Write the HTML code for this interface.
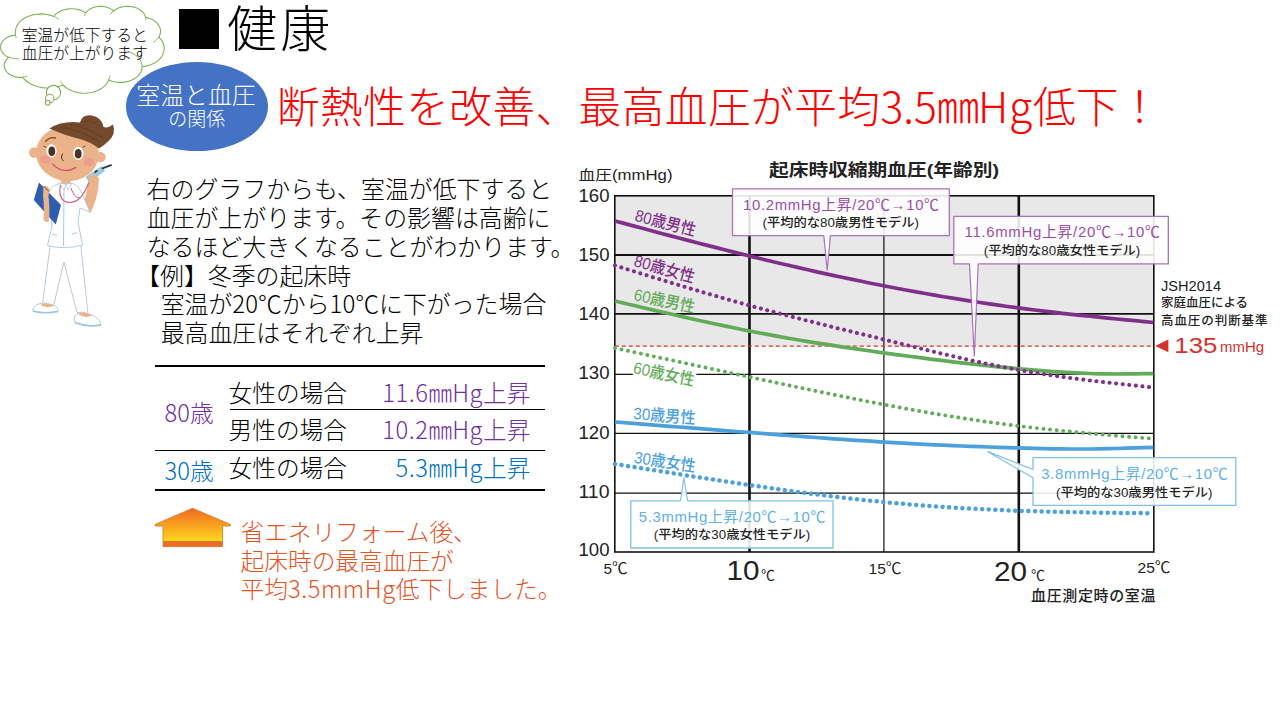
<!DOCTYPE html>
<html lang="ja">
<head>
<meta charset="utf-8">
<title>健康 - 室温と血圧の関係</title>
<style>
html,body{margin:0;padding:0;background:#fff;}
body{width:1280px;height:720px;position:relative;overflow:hidden;
  font-family:"Liberation Sans","Noto Sans CJK JP",sans-serif;color:#000;}
.jp{font-family:"Noto Sans CJK JP","Liberation Sans",sans-serif;}
.abs{position:absolute;white-space:nowrap;}
#title-sq{left:179.2px;top:8.8px;width:40px;height:40px;background:#000;}
#title{left:227px;top:-11.8px;font-size:50px;line-height:74px;font-weight:300;letter-spacing:3.2px;}
#cloudtxt{left:4.8px;top:25.5px;width:160px;text-align:center;font-size:15.75px;line-height:18px;font-weight:300;}
#ell{left:125.8px;top:61.8px;width:142.6px;height:88.8px;border-radius:50%;background:#4472C4;}
#ell1{left:125px;top:77.2px;width:142px;text-align:center;color:#fff;font-size:23.9px;line-height:34px;font-weight:300;}
#ell2{left:125.8px;top:105px;width:142px;text-align:center;color:#fff;font-size:19px;line-height:26px;font-weight:300;}
#head{left:276.8px;top:73.6px;font-size:42.67px;line-height:62px;color:#FF0000;font-weight:300;}
#body{left:146.7px;top:173.8px;font-size:23.9px;line-height:28.9px;font-weight:300;}
.ln{position:absolute;background:#000;}
.cell{font-size:23.7px;line-height:30px;font-weight:300;}
.lat{letter-spacing:0.6px;}
.pur{color:#7030A0;}
.blu{color:#0070C0;}
#org{left:240.6px;top:516.6px;font-size:23.7px;line-height:28.9px;color:#E5531F;font-weight:300;}
</style>
</head>
<body class="jp">
<svg width="1280" height="720" viewBox="0 0 1280 720" style="position:absolute;left:0;top:0">
<defs><linearGradient id="hg" x1="0" y1="0" x2="0" y2="1"><stop offset="0" stop-color="#EE6A22"/><stop offset="0.45" stop-color="#F89A1E"/><stop offset="1" stop-color="#FFDA1E"/></linearGradient></defs>
<path d="M15.4,34.9 L15.2,31.8 L15.8,28.6 L17.0,25.6 L19.0,22.7 L21.6,20.2 L24.8,18.0 L28.5,16.2 L32.5,14.9 L36.7,14.2 L41.1,13.9 L45.5,14.3 L49.7,15.1 L53.7,16.5 L55.2,14.7 L57.1,13.1 L59.2,11.7 L61.6,10.6 L64.2,9.7 L67.0,9.1 L69.9,8.8 L72.7,8.7 L75.6,9.0 L78.4,9.6 L81.0,10.4 L83.5,11.6 L85.6,12.9 L87.0,11.3 L88.6,9.9 L90.6,8.7 L92.7,7.7 L95.1,6.9 L97.6,6.5 L100.2,6.3 L102.7,6.4 L105.2,6.8 L107.6,7.5 L109.8,8.4 L111.8,9.6 L113.6,11.0 L115.8,9.4 L118.4,8.1 L121.3,7.1 L124.4,6.5 L127.6,6.3 L130.8,6.5 L133.9,7.1 L136.8,8.1 L139.4,9.4 L141.6,11.0 L143.5,12.9 L144.8,15.0 L145.7,17.2 L148.2,17.9 L150.5,18.7 L152.7,19.8 L154.7,21.1 L156.5,22.5 L157.9,24.1 L159.1,25.9 L159.9,27.7 L160.4,29.6 L160.5,31.5 L160.3,33.4 L159.8,35.3 L158.9,37.1 L161.1,39.6 L162.8,42.3 L163.8,45.2 L164.2,48.2 L163.9,51.1 L163.0,54.0 L161.5,56.8 L159.3,59.3 L156.7,61.6 L153.5,63.5 L150.0,65.0 L146.2,66.1 L142.2,66.8 L141.9,69.3 L141.0,71.8 L139.5,74.2 L137.6,76.4 L135.2,78.3 L132.4,79.8 L129.3,81.1 L125.9,81.9 L122.4,82.4 L118.8,82.4 L115.3,82.0 L111.9,81.3 L108.7,80.1 L107.1,83.1 L104.7,85.8 L101.8,88.2 L98.3,90.2 L94.4,91.7 L90.2,92.7 L85.8,93.2 L81.4,93.1 L77.1,92.5 L72.9,91.3 L69.1,89.6 L65.8,87.5 L63.0,85.0 L59.9,86.2 L56.5,87.1 L53.0,87.7 L49.5,88.0 L45.9,88.0 L42.4,87.6 L38.9,87.0 L35.6,86.0 L32.5,84.8 L29.6,83.3 L26.9,81.5 L24.6,79.5 L22.6,77.4 L19.6,77.4 L16.5,77.1 L13.6,76.3 L11.0,75.1 L8.6,73.7 L6.8,71.9 L5.4,69.9 L4.5,67.7 L4.2,65.5 L4.5,63.3 L5.4,61.2 L6.8,59.2 L8.7,57.4 L6.1,56.1 L4.0,54.4 L2.3,52.4 L1.1,50.3 L0.6,48.0 L0.7,45.7 L1.3,43.4 L2.6,41.3 L4.4,39.4 L6.6,37.8 L9.3,36.5 L12.2,35.6 L15.3,35.2 Z" fill="#fff" stroke="#7DB356" stroke-width="1.1" stroke-linejoin="round"/>
<path d="M18.4,58.7 L17.0,58.7 L15.6,58.7 L14.2,58.5 L12.8,58.3 L11.4,58.0 L10.1,57.6 L8.9,57.1 M26.9,76.2 L26.3,76.4 L25.7,76.5 L25.1,76.6 L24.5,76.8 L23.9,76.8 L23.3,76.9 L22.7,77.0 M63.0,84.6 L62.6,84.2 L62.2,83.7 L61.8,83.2 L61.5,82.7 L61.1,82.2 L60.8,81.7 L60.5,81.1 M109.7,75.9 L109.7,76.5 L109.6,77.0 L109.5,77.6 L109.3,78.1 L109.1,78.7 L109.0,79.2 L108.7,79.8 M129.8,52.2 L132.8,53.5 L135.5,55.1 L137.8,57.0 L139.7,59.2 L141.0,61.5 L141.9,64.0 L142.1,66.5 M158.8,36.9 L158.3,37.8 L157.6,38.6 L156.9,39.4 L156.1,40.2 L155.3,40.9 L154.3,41.6 L153.3,42.3 M145.7,16.9 L145.8,17.3 L145.8,17.7 L145.9,18.0 L145.9,18.4 L146.0,18.7 L146.0,19.1 L146.0,19.5 M110.7,14.0 L111.0,13.5 L111.4,13.0 L111.7,12.5 L112.1,12.0 L112.6,11.6 L113.0,11.1 L113.5,10.7 M84.5,15.5 L84.6,15.1 L84.7,14.7 L84.9,14.3 L85.1,13.9 L85.3,13.5 L85.6,13.1 L85.8,12.7 M53.7,16.5 L54.4,16.8 L55.1,17.1 L55.9,17.5 L56.6,17.9 L57.3,18.3 L57.9,18.7 L58.6,19.2 M16.3,37.8 L16.1,37.4 L16.0,37.0 L15.9,36.6 L15.7,36.2 L15.6,35.7 L15.5,35.3 L15.4,34.9" fill="none" stroke="#7DB356" stroke-width="1.0" stroke-linecap="round"/>
<circle cx="53.5" cy="92.6" r="7.2" fill="#fff" stroke="#7DB356" stroke-width="1.1"/>
<circle cx="49.8" cy="98.6" r="4.3" fill="#fff" stroke="#7DB356" stroke-width="1.1"/>
<circle cx="47.7" cy="102.7" r="2.4" fill="#fff" stroke="#7DB356" stroke-width="1.1"/>
<path d="M192.6,508.2 L230.4,524.4 L230.4,526 L222.6,526 L222.6,541.8 L163,541.8 L163,526 L155.2,526 L155.2,524.4 Z" fill="url(#hg)" stroke="#C7782C" stroke-width="0.8" stroke-linejoin="round"/>
<rect x="163" y="541.6" width="59.6" height="5.2" fill="#EE6A22" stroke="#C7782C" stroke-width="0.6"/>
<path d="M50.5,243 L42.5,304 L53.5,306 L64,262 L77,312.5 L88,314 L80.5,243 Z" fill="#fff" stroke="#AFC3D8" stroke-width="0.9" stroke-linejoin="round"/>
<path d="M33,309 Q35,303.5 44,303 L55,305.5 Q59,308 58,311.5 Q45,313.5 33,311.5 Z" fill="#fff" stroke="#AFC3D8" stroke-width="0.9"/>
<path d="M40,305 Q46,301.5 54,305.5 Q47,309 40,305 Z" fill="#EBB389"/>
<path d="M33,311 Q45,314.5 58,311.5" fill="none" stroke="#9DC3E6" stroke-width="1.4"/>
<path d="M74,319 Q75,313 82,312 L92,315 Q100,319 101,324.5 Q88,327.5 75,322.5 Z" fill="#fff" stroke="#AFC3D8" stroke-width="0.9"/>
<path d="M78,314 Q84,310.5 92,315.5 Q85,319 78,314 Z" fill="#EBB389"/>
<path d="M75,322.5 Q88,328 101,325" fill="none" stroke="#9DC3E6" stroke-width="1.4"/>
<path d="M88.5,176 Q96,171.5 99,179 Q98.5,197 90.5,213 L81.5,207 Q88,194 88.5,176 Z" fill="#EBB389"/>
<path d="M58,184 Q50,186 47,196 L50,206 L52,226 L47.5,245.5 Q64,250 82.5,245 L78,222 L80,208 L90,212 L83,196 Q80,186 72,183 Z" fill="#fff" stroke="#AFC3D8" stroke-width="0.9" stroke-linejoin="round"/>
<path d="M64,186 L63.5,246" stroke="#9DC3E6" stroke-width="0.9" fill="none"/>
<path d="M52,234 L57,235.5 M72,234 L77,232.5" stroke="#9DC3E6" stroke-width="0.9" fill="none"/>
<path d="M60,178 L71,178 L70,186 L62,186 Z" fill="#EBB389"/>
<path d="M59,183 L64,190 L66,184 Z M72,183 L68,190 L66,184 Z" fill="#fff" stroke="#AFC3D8" stroke-width="0.8"/>
<path d="M60.5,185 Q58,196 64,201 Q72,205 80,198 Q86,191 88.5,183" fill="none" stroke="#D95B73" stroke-width="1.1"/>
<path d="M71,188 Q74,198 80,198" fill="none" stroke="#D95B73" stroke-width="1.0"/>
<path d="M39,182.5 L61,205 L55.8,224.5 L33.8,200 Z" fill="#2E5DB0"/>
<path d="M43.5,186 Q47,184.5 49.5,189 L48.5,196 Q50,210 49,221 Q46,223.5 43.5,220 Q44.5,206 43,196 Z" fill="#EBB389"/>
<path d="M44,186.5 L49,191.5" stroke="#6B4A2E" stroke-width="1" fill="none"/>
<circle cx="34.2" cy="152.5" r="5.2" fill="#EBB389"/>
<circle cx="100.5" cy="157" r="5.2" fill="#EBB389"/>
<ellipse cx="67.5" cy="153.5" rx="31.5" ry="27.5" fill="#EBB389" transform="rotate(4 67.5 153.5)"/>
<path d="M49.5,128.5 Q62,120.5 80,122.5 Q82,114 92,115.5 Q102,117.5 103.5,127 Q108,128.5 113,124.5 Q116.5,134 108,141.5 Q104,145.5 99,148.5 Q90,141.5 78,138.5 Q62,134.5 49.5,128.5 Z" fill="#754A2C"/>
<path d="M60,127.5 Q78,128.5 100,142 M84,121.5 Q93,119.5 99,126.5 M70,124.5 Q88,127 103,138" fill="none" stroke="#5E3B22" stroke-width="1.1" stroke-linecap="round" opacity="0.7"/>
<ellipse cx="45.5" cy="159.5" rx="5.5" ry="4.2" fill="#F0948E" opacity="0.75"/>
<ellipse cx="89" cy="162" rx="5.5" ry="4.2" fill="#F0948E" opacity="0.75"/>
<ellipse cx="51.5" cy="150.8" rx="5.2" ry="6.6" fill="#fff"/><ellipse cx="51.8" cy="151.2" rx="3.4" ry="4.7" fill="#4A3122"/>
<ellipse cx="78.3" cy="153.3" rx="5.2" ry="6.6" fill="#fff"/><ellipse cx="78.2" cy="153.8" rx="3.4" ry="4.7" fill="#4A3122"/>
<path d="M45.5,141.5 Q50,136.5 55.5,138" fill="none" stroke="#754A2C" stroke-width="1.3" stroke-linecap="round"/>
<path d="M43.5,146 L46.5,147.5 M82.5,147.5 L85.5,146" stroke="#754A2C" stroke-width="1" fill="none"/>
<path d="M62.5,154 Q60,158.5 63.5,161" fill="none" stroke="#4A3122" stroke-width="1" stroke-linecap="round"/>
<path d="M52.5,164 Q63,175 76,167.5" fill="none" stroke="#D95B73" stroke-width="1.5" stroke-linecap="round"/>
<path d="M86,177 L101.5,166.5 L104.5,171 L89,181.5 Z" fill="#9CCDE6" stroke="#7FB4D4" stroke-width="0.6"/>
<path d="M102.5,168.3 L111,165.2" stroke="#2B3A4A" stroke-width="1.8" stroke-linecap="round"/>
<path d="M94.5,172.5 L97.5,170.5" stroke="#2B3A4A" stroke-width="1.6"/>
<ellipse cx="93" cy="178.5" rx="4.6" ry="4" fill="#EBB389"/>
</svg>

<div class="abs" id="title-sq"></div>
<div class="abs" id="title">健康</div>
<div class="abs" id="ell"></div>
<div class="abs" id="ell1">室温と血圧</div>
<div class="abs" id="ell2">の関係</div>
<div class="abs" id="cloudtxt">室温が低下すると<br>血圧が上がります</div>
<div class="abs" id="head"><span style="letter-spacing:0.46px">断熱性を改善、最高血圧が平均</span>3.5<span style="letter-spacing:-1.5px">㎜</span><span style="letter-spacing:0.8px">Hg</span>低下！</div>
<div class="abs" id="body">右のグラフからも、室温が低下すると<br>血圧が上がります。その影響は高齢に<br>なるほど大きくなることがわかります。<br><span style="margin-left:-10.6px">【</span>例】冬季の起床時<br><span style="padding-left:14px">室温が20℃から10℃に下がった場合</span><br><span style="padding-left:14px">最高血圧はそれぞれ上昇</span></div>

<div class="ln" style="left:155px;top:364.8px;width:389.5px;height:2.2px"></div>
<div class="ln" style="left:229.5px;top:408.7px;width:315px;height:1.4px"></div>
<div class="ln" style="left:155px;top:449.8px;width:389.5px;height:1.4px"></div>
<div class="ln" style="left:155px;top:488.9px;width:389.5px;height:2.2px"></div>
<div class="abs cell pur" style="left:164.6px;top:396.5px;font-weight:300">80歳</div>
<div class="abs cell blu" style="left:164.6px;top:454.5px;font-weight:300">30歳</div>
<div class="abs cell" style="left:228.5px;top:376.5px">女性の場合</div>
<div class="abs cell" style="left:228.5px;top:414px">男性の場合</div>
<div class="abs cell" style="left:228.5px;top:452.3px">女性の場合</div>
<div class="abs cell pur" style="left:330px;width:200.5px;text-align:right;top:376.5px;font-weight:300"><span class="lat">11.6</span>㎜<span class="lat">Hg</span>上昇</div>
<div class="abs cell pur" style="left:330px;width:200.5px;text-align:right;top:414px;font-weight:300"><span class="lat">10.2</span>㎜<span class="lat">Hg</span>上昇</div>
<div class="abs cell blu" style="left:330px;width:200.5px;text-align:right;top:452.3px;font-weight:300"><span class="lat">5.3</span>㎜<span class="lat">Hg</span>上昇</div>
<div class="abs" id="org">省エネリフォーム後、<br>起床時の最高血圧が<br>平均<span style="letter-spacing:0.55px">3.5mmHg</span>低下しました。</div>
<svg width="1280" height="720" viewBox="0 0 1280 720" style="position:absolute;left:0;top:0" font-family="'Liberation Sans','Noto Sans CJK JP',sans-serif">
<rect x="614.8" y="195.8" width="539.0" height="150.39999999999998" fill="#E8E8E8"/>
<line x1="614.8" x2="1153.8" y1="255.0" y2="255.0" stroke="#111" stroke-width="1.8"/>
<line x1="614.8" x2="1153.8" y1="313.9" y2="313.9" stroke="#111" stroke-width="1.8"/>
<line x1="614.8" x2="1153.8" y1="374.4" y2="374.4" stroke="#111" stroke-width="1.2"/>
<line x1="614.8" x2="1153.8" y1="433.3" y2="433.3" stroke="#111" stroke-width="1.2"/>
<line x1="614.8" x2="1153.8" y1="493.2" y2="493.2" stroke="#111" stroke-width="1.2"/>
<line x1="883.9" x2="883.9" y1="195.8" y2="552.0" stroke="#111" stroke-width="1.2"/>
<line x1="749.5" x2="749.5" y1="195.8" y2="552.0" stroke="#111" stroke-width="2.6"/>
<line x1="1018.8" x2="1018.8" y1="195.8" y2="552.0" stroke="#111" stroke-width="2.6"/>
<rect x="614.8" y="195.8" width="539.0" height="356.2" fill="none" stroke="#111" stroke-width="1.6"/>
<line x1="614.8" x2="1153.8" y1="346.2" y2="346.2" stroke="#D8302B" stroke-width="1.3" stroke-dasharray="4 3"/>
<path d="M615.0,221.0 L624.1,223.4 L633.3,225.9 L642.4,228.3 L651.5,230.7 L660.6,233.2 L669.8,235.6 L678.9,238.0 L688.0,240.4 L697.1,242.7 L706.3,245.1 L715.4,247.4 L724.5,249.8 L733.7,252.1 L742.8,254.3 L751.9,256.6 L761.0,258.8 L770.2,261.0 L779.3,263.2 L788.4,265.3 L797.5,267.4 L806.7,269.5 L815.8,271.6 L824.9,273.6 L834.1,275.6 L843.2,277.5 L852.3,279.4 L861.4,281.3 L870.6,283.2 L879.7,285.0 L888.8,286.8 L897.9,288.5 L907.1,290.2 L916.2,291.9 L925.3,293.5 L934.4,295.1 L943.6,296.7 L952.7,298.2 L961.8,299.7 L971.0,301.1 L980.1,302.5 L989.2,303.9 L998.3,305.2 L1007.5,306.5 L1016.6,307.7 L1025.7,308.9 L1034.8,310.0 L1044.0,311.2 L1053.1,312.2 L1062.2,313.3 L1071.4,314.3 L1080.5,315.3 L1089.6,316.2 L1098.7,317.1 L1107.9,318.1 L1117.0,319.0 L1126.1,319.9 L1135.2,320.7 L1144.4,321.6 L1153.5,322.5" fill="none" stroke="#7F3189" stroke-width="3.7"/>
<path d="M615.0,301.0 L624.1,303.2 L633.3,305.3 L642.4,307.5 L651.5,309.6 L660.6,311.7 L669.8,313.8 L678.9,315.9 L688.0,318.0 L697.1,320.0 L706.3,322.0 L715.4,324.0 L724.5,325.9 L733.7,327.8 L742.8,329.7 L751.9,331.5 L761.0,333.2 L770.2,334.9 L779.3,336.6 L788.4,338.2 L797.5,339.8 L806.7,341.3 L815.8,342.8 L824.9,344.2 L834.1,345.7 L843.2,347.1 L852.3,348.4 L861.4,349.7 L870.6,351.0 L879.7,352.3 L888.8,353.6 L897.9,354.8 L907.1,356.0 L916.2,357.2 L925.3,358.4 L934.4,359.6 L943.6,360.7 L952.7,361.8 L961.8,362.8 L971.0,363.9 L980.1,364.9 L989.2,365.8 L998.3,366.8 L1007.5,367.7 L1016.6,368.6 L1025.7,369.4 L1034.8,370.2 L1044.0,370.9 L1053.1,371.6 L1062.2,372.2 L1071.4,372.7 L1080.5,373.2 L1089.6,373.5 L1098.7,373.8 L1107.9,373.9 L1117.0,374.0 L1126.1,373.9 L1135.2,373.9 L1144.4,373.7 L1153.5,373.6" fill="none" stroke="#62AB58" stroke-width="3.7"/>
<path d="M615.0,422.0 L624.1,422.7 L633.3,423.4 L642.4,424.1 L651.5,424.9 L660.6,425.6 L669.8,426.3 L678.9,427.0 L688.0,427.7 L697.1,428.4 L706.3,429.1 L715.4,429.9 L724.5,430.6 L733.7,431.3 L742.8,432.0 L751.9,432.7 L761.0,433.4 L770.2,434.1 L779.3,434.8 L788.4,435.5 L797.5,436.2 L806.7,436.8 L815.8,437.5 L824.9,438.2 L834.1,438.8 L843.2,439.4 L852.3,440.1 L861.4,440.7 L870.6,441.2 L879.7,441.8 L888.8,442.3 L897.9,442.9 L907.1,443.4 L916.2,443.9 L925.3,444.3 L934.4,444.8 L943.6,445.2 L952.7,445.6 L961.8,446.0 L971.0,446.4 L980.1,446.7 L989.2,447.0 L998.3,447.4 L1007.5,447.7 L1016.6,447.9 L1025.7,448.2 L1034.8,448.4 L1044.0,448.6 L1053.1,448.8 L1062.2,448.9 L1071.4,449.0 L1080.5,449.0 L1089.6,449.0 L1098.7,448.8 L1107.9,448.7 L1117.0,448.5 L1126.1,448.2 L1135.2,447.9 L1144.4,447.6 L1153.5,447.3" fill="none" stroke="#4CA1DC" stroke-width="3.7"/>
<path d="M615.0,265.5 L619.5,266.9 L624.1,268.3 L628.6,269.7 L633.1,271.1 L637.6,272.5 L642.2,273.9 L646.7,275.3 L651.2,276.7 L655.7,278.0 L660.3,279.4 L664.8,280.8 L669.3,282.2 L673.8,283.5 L678.4,284.9 L682.9,286.3 L687.4,287.6 L691.9,289.0 L696.5,290.3 L701.0,291.7 L705.5,293.0 L710.0,294.3 L714.6,295.6 L719.1,296.9 L723.6,298.2 L728.1,299.5 L732.7,300.8 L737.2,302.1 L741.7,303.3 L746.2,304.6 L750.8,305.8 L755.3,307.1 L759.8,308.3 L764.3,309.5 L768.9,310.7 L773.4,311.9 L777.9,313.1 L782.4,314.3 L787.0,315.5 L791.5,316.6 L796.0,317.8 L800.5,318.9 L805.1,320.1 L809.6,321.2 L814.1,322.4 L818.6,323.5 L823.2,324.6 L827.7,325.7 L832.2,326.9 L836.7,328.0 L841.3,329.1 L845.8,330.2 L850.3,331.3 L854.8,332.4 L859.4,333.5 L863.9,334.6 L868.4,335.7 L872.9,336.8 L877.5,337.9 L882.0,339.0 L886.5,340.1 L891.0,341.3 L895.6,342.4 L900.1,343.5 L904.6,344.6 L909.1,345.7 L913.7,346.8 L918.2,347.9 L922.7,349.0 L927.2,350.1 L931.8,351.2 L936.3,352.3 L940.8,353.4 L945.3,354.4 L949.9,355.5 L954.4,356.6 L958.9,357.6 L963.4,358.6 L968.0,359.7 L972.5,360.7 L977.0,361.6 L981.5,362.6 L986.1,363.6 L990.6,364.5 L995.1,365.5 L999.6,366.4 L1004.2,367.3 L1008.7,368.1 L1013.2,369.0 L1017.7,369.8 L1022.3,370.6 L1026.8,371.4 L1031.3,372.2 L1035.8,372.9 L1040.4,373.6 L1044.9,374.3 L1049.4,375.0 L1053.9,375.7 L1058.5,376.3 L1063.0,377.0 L1067.5,377.6 L1072.0,378.2 L1076.6,378.8 L1081.1,379.4 L1085.6,379.9 L1090.1,380.5 L1094.7,381.0 L1099.2,381.6 L1103.7,382.1 L1108.2,382.6 L1112.8,383.1 L1117.3,383.6 L1121.8,384.1 L1126.3,384.6 L1130.9,385.1 L1135.4,385.6 L1139.9,386.1 L1144.4,386.5 L1149.0,387.0 L1153.5,387.5" fill="none" stroke="#7F3189" stroke-width="4.1" stroke-linecap="round" stroke-dasharray="0.01 6.6"/>
<path d="M615.0,348.0 L619.5,349.0 L624.1,350.0 L628.6,350.9 L633.1,351.9 L637.6,352.9 L642.2,353.9 L646.7,354.9 L651.2,355.8 L655.7,356.8 L660.3,357.8 L664.8,358.8 L669.3,359.7 L673.8,360.7 L678.4,361.7 L682.9,362.7 L687.4,363.7 L691.9,364.6 L696.5,365.6 L701.0,366.6 L705.5,367.6 L710.0,368.5 L714.6,369.5 L719.1,370.5 L723.6,371.4 L728.1,372.4 L732.7,373.4 L737.2,374.4 L741.7,375.3 L746.2,376.3 L750.8,377.3 L755.3,378.2 L759.8,379.2 L764.3,380.2 L768.9,381.1 L773.4,382.1 L777.9,383.1 L782.4,384.0 L787.0,385.0 L791.5,385.9 L796.0,386.9 L800.5,387.8 L805.1,388.8 L809.6,389.7 L814.1,390.7 L818.6,391.6 L823.2,392.5 L827.7,393.4 L832.2,394.4 L836.7,395.3 L841.3,396.2 L845.8,397.1 L850.3,398.0 L854.8,398.9 L859.4,399.8 L863.9,400.7 L868.4,401.6 L872.9,402.4 L877.5,403.3 L882.0,404.2 L886.5,405.0 L891.0,405.9 L895.6,406.7 L900.1,407.5 L904.6,408.4 L909.1,409.2 L913.7,410.0 L918.2,410.8 L922.7,411.6 L927.2,412.4 L931.8,413.1 L936.3,413.9 L940.8,414.7 L945.3,415.4 L949.9,416.1 L954.4,416.9 L958.9,417.6 L963.4,418.3 L968.0,419.0 L972.5,419.7 L977.0,420.3 L981.5,421.0 L986.1,421.7 L990.6,422.3 L995.1,422.9 L999.6,423.5 L1004.2,424.1 L1008.7,424.7 L1013.2,425.3 L1017.7,425.9 L1022.3,426.4 L1026.8,427.0 L1031.3,427.5 L1035.8,428.0 L1040.4,428.5 L1044.9,429.0 L1049.4,429.5 L1053.9,430.0 L1058.5,430.4 L1063.0,430.9 L1067.5,431.3 L1072.0,431.8 L1076.6,432.2 L1081.1,432.6 L1085.6,433.0 L1090.1,433.5 L1094.7,433.9 L1099.2,434.3 L1103.7,434.7 L1108.2,435.0 L1112.8,435.4 L1117.3,435.8 L1121.8,436.2 L1126.3,436.6 L1130.9,436.9 L1135.4,437.3 L1139.9,437.7 L1144.4,438.0 L1149.0,438.4 L1153.5,438.8" fill="none" stroke="#62AB58" stroke-width="3.9" stroke-linecap="round" stroke-dasharray="0.01 6.6"/>
<path d="M615.0,464.0 L619.5,464.7 L624.1,465.4 L628.6,466.2 L633.1,466.9 L637.6,467.6 L642.2,468.3 L646.7,469.1 L651.2,469.8 L655.7,470.5 L660.3,471.2 L664.8,471.9 L669.3,472.7 L673.8,473.4 L678.4,474.1 L682.9,474.8 L687.4,475.5 L691.9,476.2 L696.5,476.9 L701.0,477.6 L705.5,478.3 L710.0,479.0 L714.6,479.7 L719.1,480.4 L723.6,481.1 L728.1,481.8 L732.7,482.5 L737.2,483.2 L741.7,483.8 L746.2,484.5 L750.8,485.2 L755.3,485.9 L759.8,486.5 L764.3,487.2 L768.9,487.8 L773.4,488.5 L777.9,489.1 L782.4,489.8 L787.0,490.4 L791.5,491.0 L796.0,491.6 L800.5,492.3 L805.1,492.9 L809.6,493.5 L814.1,494.1 L818.6,494.6 L823.2,495.2 L827.7,495.8 L832.2,496.3 L836.7,496.9 L841.3,497.4 L845.8,498.0 L850.3,498.5 L854.8,499.0 L859.4,499.5 L863.9,500.0 L868.4,500.5 L872.9,501.0 L877.5,501.4 L882.0,501.9 L886.5,502.3 L891.0,502.8 L895.6,503.2 L900.1,503.6 L904.6,504.0 L909.1,504.4 L913.7,504.8 L918.2,505.1 L922.7,505.5 L927.2,505.8 L931.8,506.1 L936.3,506.5 L940.8,506.8 L945.3,507.1 L949.9,507.4 L954.4,507.7 L958.9,507.9 L963.4,508.2 L968.0,508.5 L972.5,508.7 L977.0,508.9 L981.5,509.2 L986.1,509.4 L990.6,509.6 L995.1,509.8 L999.6,510.0 L1004.2,510.2 L1008.7,510.4 L1013.2,510.6 L1017.7,510.7 L1022.3,510.9 L1026.8,511.0 L1031.3,511.2 L1035.8,511.3 L1040.4,511.4 L1044.9,511.5 L1049.4,511.7 L1053.9,511.8 L1058.5,511.9 L1063.0,512.0 L1067.5,512.1 L1072.0,512.2 L1076.6,512.3 L1081.1,512.3 L1085.6,512.4 L1090.1,512.5 L1094.7,512.6 L1099.2,512.6 L1103.7,512.7 L1108.2,512.7 L1112.8,512.8 L1117.3,512.9 L1121.8,512.9 L1126.3,513.0 L1130.9,513.0 L1135.4,513.1 L1139.9,513.1 L1144.4,513.2 L1149.0,513.2 L1153.5,513.2" fill="none" stroke="#4CA1DC" stroke-width="4.5" stroke-linecap="round" stroke-dasharray="0.01 6.6"/>
<text x="578.5" y="202.0" font-size="17.5" fill="#222" textLength="31" lengthAdjust="spacingAndGlyphs">160</text>
<text x="578.5" y="261.2" font-size="17.5" fill="#222" textLength="31" lengthAdjust="spacingAndGlyphs">150</text>
<text x="578.5" y="320.1" font-size="17.5" fill="#222" textLength="31" lengthAdjust="spacingAndGlyphs">140</text>
<text x="578.5" y="379.3" font-size="17.5" fill="#222" textLength="31" lengthAdjust="spacingAndGlyphs">130</text>
<text x="578.5" y="438.6" font-size="17.5" fill="#222" textLength="31" lengthAdjust="spacingAndGlyphs">120</text>
<text x="578.5" y="498.4" font-size="17.5" fill="#222" textLength="31" lengthAdjust="spacingAndGlyphs">110</text>
<text x="578.5" y="555.7" font-size="17.5" fill="#222" textLength="31" lengthAdjust="spacingAndGlyphs">100</text>
<text x="578.5" y="179.5" font-size="14" fill="#222" textLength="94" lengthAdjust="spacingAndGlyphs">血圧(mmHg)</text>
<text x="769" y="175.5" font-size="17" font-weight="700" fill="#222" textLength="230" lengthAdjust="spacingAndGlyphs">起床時収縮期血圧(年齢別)</text>
<text x="603.5" y="573.5" font-size="15.5" fill="#222" textLength="24" lengthAdjust="spacingAndGlyphs">5℃</text>
<text x="868.5" y="573.5" font-size="15.5" fill="#222" textLength="33" lengthAdjust="spacingAndGlyphs">15℃</text>
<text x="1137.5" y="573.3" font-size="15.5" fill="#222" textLength="33" lengthAdjust="spacingAndGlyphs">25℃</text>
<text x="726.5" y="580" font-size="28.5" fill="#222" textLength="33" lengthAdjust="spacingAndGlyphs">10</text>
<text x="761" y="579.5" font-size="14" fill="#222">℃</text>
<text x="994" y="580.5" font-size="28.5" fill="#222" textLength="33" lengthAdjust="spacingAndGlyphs">20</text>
<text x="1031" y="579.5" font-size="14" fill="#222">℃</text>
<text x="1031" y="601" font-size="15" font-weight="500" fill="#222" textLength="124.5" lengthAdjust="spacing">血圧測定時の室温</text>
<text transform="translate(665.5,222.5) rotate(14.5)" x="-31.0" y="6" font-size="16.5" font-weight="500" fill="#7F3189" textLength="62" lengthAdjust="spacingAndGlyphs">80歳男性</text>
<text transform="translate(664.5,268.5) rotate(16)" x="-31.0" y="6" font-size="16.5" font-weight="500" fill="#7F3189" textLength="62" lengthAdjust="spacingAndGlyphs">80歳女性</text>
<text transform="translate(664.5,300.5) rotate(12)" x="-31.0" y="6" font-size="16.5" font-weight="500" fill="#62AB58" textLength="62" lengthAdjust="spacingAndGlyphs">60歳男性</text>
<text transform="translate(664,373.5) rotate(12)" x="-31.0" y="6" font-size="16.5" font-weight="500" fill="#62AB58" textLength="62" lengthAdjust="spacingAndGlyphs" stroke="#fff" stroke-width="5" paint-order="stroke" stroke-linejoin="round">60歳女性</text>
<text transform="translate(664.5,415.5) rotate(4.5)" x="-31.0" y="6" font-size="16.5" font-weight="500" fill="#4CA1DC" textLength="62" lengthAdjust="spacingAndGlyphs">30歳男性</text>
<text transform="translate(665,461.5) rotate(8.5)" x="-31.0" y="6" font-size="16.5" font-weight="500" fill="#4CA1DC" textLength="62" lengthAdjust="spacingAndGlyphs">30歳女性</text>
<rect x="732.5" y="188.8" width="216.79999999999995" height="46.79999999999998" fill="#fff" fill-opacity="0.88" stroke="none"/>
<path d="M823.8,235.6 L827.2,270.5 L830.4,235.6" fill="#fff" fill-opacity="0.9" stroke="#AA72BA" stroke-width="1.2" stroke-linejoin="miter"/>
<path d="M823.8,235.6 L732.5,235.6 L732.5,188.8 L949.3,188.8 L949.3,235.6 L830.4,235.6" fill="none" stroke="#AA72BA" stroke-width="1.3"/>
<text x="743" y="210" font-size="14.9" fill="#9A4FA6" textLength="196" lengthAdjust="spacing">10.2mmHg上昇/20℃→10℃</text>
<text x="762.5" y="227" font-size="12.5" font-weight="500" fill="#222" textLength="156.5" lengthAdjust="spacingAndGlyphs">(平均的な80歳男性モデル)</text>
<rect x="953.8" y="216.3" width="214.5" height="47.5" fill="#fff" fill-opacity="0.88" stroke="none"/>
<path d="M969.5,263.8 L974.3,356.5 L978.2,263.8" fill="#fff" fill-opacity="0.9" stroke="#AA72BA" stroke-width="1.2" stroke-linejoin="miter"/>
<path d="M969.5,263.8 L953.8,263.8 L953.8,216.3 L1168.3,216.3 L1168.3,263.8 L978.2,263.8" fill="none" stroke="#AA72BA" stroke-width="1.3"/>
<text x="964.5" y="236.6" font-size="14.9" fill="#9A4FA6" textLength="195.5" lengthAdjust="spacing">11.6mmHg上昇/20℃→10℃</text>
<text x="983.8" y="255.2" font-size="12.5" font-weight="500" fill="#222" textLength="156.5" lengthAdjust="spacingAndGlyphs">(平均的な80歳女性モデル)</text>
<rect x="630.8" y="500.8" width="202.20000000000005" height="47.19999999999999" fill="#fff" fill-opacity="0.88" stroke="none"/>
<path d="M680.6,500.8 L683.8,477.5 L687.6,500.8" fill="#fff" fill-opacity="0.9" stroke="#7FC1EB" stroke-width="1.2" stroke-linejoin="miter"/>
<path d="M680.6,500.8 L630.8,500.8 L630.8,548 L833,548 L833,500.8 L687.6,500.8" fill="none" stroke="#7FC1EB" stroke-width="1.3"/>
<text x="638.8" y="521.8" font-size="14.9" fill="#5FB0E4" textLength="186.5" lengthAdjust="spacing">5.3mmHg上昇/20℃→10℃</text>
<text x="653.8" y="539" font-size="12.5" font-weight="500" fill="#222" textLength="156.5" lengthAdjust="spacingAndGlyphs">(平均的な30歳女性モデル)</text>
<rect x="1033" y="457.6" width="202.79999999999995" height="47.799999999999955" fill="#fff" fill-opacity="0.88" stroke="none"/>
<path d="M1033,469.5 L987.5,451.4 L1033,477.8" fill="#fff" fill-opacity="0.9" stroke="#7FC1EB" stroke-width="1.2" stroke-linejoin="miter"/>
<path d="M1033,469.5 L1033,457.6 L1235.8,457.6 L1235.8,505.4 L1033,505.4 L1033,477.8" fill="none" stroke="#7FC1EB" stroke-width="1.3"/>
<text x="1041.3" y="478.8" font-size="14.9" fill="#5FB0E4" textLength="186.3" lengthAdjust="spacing">3.8mmHg上昇/20℃→10℃</text>
<text x="1056" y="497" font-size="12.5" font-weight="500" fill="#222" textLength="156.5" lengthAdjust="spacingAndGlyphs">(平均的な30歳男性モデル)</text>
<text x="1161" y="291" font-size="14" fill="#222" textLength="60" lengthAdjust="spacingAndGlyphs">JSH2014</text>
<text x="1161" y="307" font-size="12.5" font-weight="500" fill="#222" textLength="87" lengthAdjust="spacingAndGlyphs">家庭血圧による</text>
<text x="1161" y="324.5" font-size="12.5" font-weight="500" fill="#222" textLength="106.5" lengthAdjust="spacing">高血圧の判断基準</text>
<path d="M1155.3,346 L1168.4,339.6 L1168.4,352.2 Z" fill="#D8302B"/>
<text x="1174.3" y="352.6" font-size="21.5" fill="#D8302B" textLength="43" lengthAdjust="spacingAndGlyphs">135</text>
<text x="1220" y="352.3" font-size="15.5" fill="#D8302B" textLength="44" lengthAdjust="spacingAndGlyphs">mmHg</text>
</svg>
</body>
</html>
